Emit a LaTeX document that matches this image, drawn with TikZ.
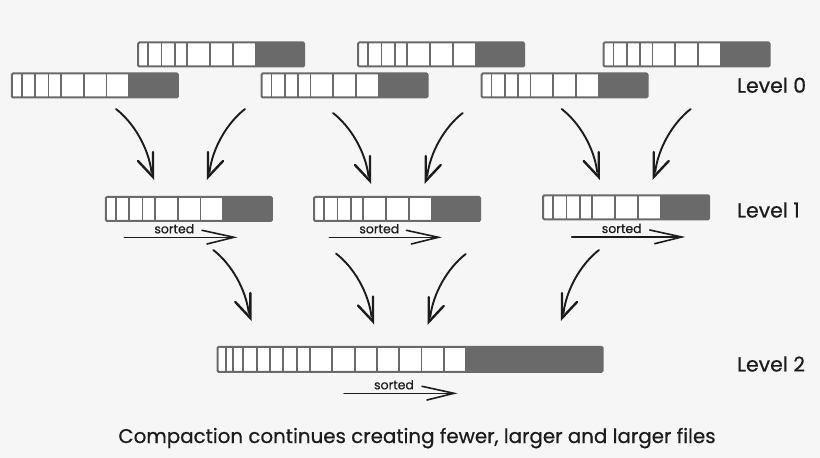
\documentclass[tikz,border=0pt]{standalone}
\usepackage{fontspec}
\setmainfont{Poppins}
\newfontfamily\labfont{Poppins}[FakeBold=0.6]
\usetikzlibrary{calc}
\definecolor{bgc}{RGB}{246,246,246}
\definecolor{barc}{RGB}{106,106,106}
\definecolor{inkc}{RGB}{28,28,28}
\tikzset{
  barnode/.style={fill=white, draw=none, inner sep=0pt, outer sep=0pt, anchor=north west},
  barline/.style={draw=barc, line width=2bp, rounded corners=1.2bp},
  cellline/.style={draw=barc, line width=1.8bp},
  shaft/.style={draw=inkc, line width=1.9bp, line cap=round},
  headarm/.style={draw=inkc, line width=2.4bp, line cap=round, line join=miter},
  sline/.style={draw=inkc, line width=1.4bp, line cap=round},
  shead/.style={draw=inkc, line width=1.6bp, line cap=round, line join=miter},
  sortlab/.style={anchor=base, inner sep=0pt, text=inkc, font=\labfont\fontsize{12.5}{14}\selectfont},
  levellab/.style={anchor=base west, inner sep=0pt, text=inkc, font=\labfont\fontsize{20.5}{24}\selectfont},
  caplab/.style={anchor=base, inner sep=0pt, text=inkc, font=\labfont\fontsize{19.9}{24}\selectfont}
}
\newcommand\fivebar[3]{%
  \node[barnode, minimum width=166bp, minimum height=24bp] (#1) at (#2,#3) {};
  \fill[barc] ($(#1.north west)+(117.4,0)$) rectangle (#1.south east);
  \foreach \cx in {10,23.3,36.6,49,71.8,94.6,117.4}{%
    \draw[cellline] ($(#1.north west)+(\cx,0)$) -- ($(#1.south west)+(\cx,0)$);}
  \draw[barline] (#1.north west) rectangle (#1.south east);
}
\newcommand\carrow[4]{% name, start x, start y, direction
  \coordinate (#1s) at (#2,#3);
  \coordinate (#1t) at ($(#1s)+(#4*37,68)$);
  \draw[shaft] (#1s) .. controls +(#4*18,14) and +(-#4*3,-24) .. ($(#1t)+(-#4*1.5,-5)$);
  \draw[headarm] ($(#1t)+(0,-25)$) -- (#1t) -- ($(#1t)+(-#4*15,-16)$);
}
\newcommand\sortarrow[4]{% name, x1, x2, y
  \coordinate (#1a) at (#2,#4);
  \coordinate (#1b) at (#3,#4);
  \draw[sline] (#1a) -- (#1b);
  \draw[shead] ($(#1b)+(-32,-7)$) -- (#1b) -- ($(#1b)+(-27,6.7)$);
  \node[sortlab] (#1l) at ($(#1a)+(50,-4)$) {sorted};
}
\begin{document}
\begin{tikzpicture}[x=1bp,y=-1bp]
\useasboundingbox (0,0) rectangle (820,458);
\fill[bgc] (0,0) rectangle (820,458);
% Level 0
\fivebar{ta}{138.1}{42.5}
\fivebar{tb}{358.1}{42.5}
\fivebar{tc}{603.5}{42.5}
\fivebar{ba}{11.8}{73.5}
\fivebar{bb}{261.5}{73.5}
\fivebar{bc}{481.5}{73.5}
% Level 1
\fivebar{ma}{105.8}{197}
\fivebar{mb}{314.1}{197}
\fivebar{mc}{543.1}{195.3}
% Level 2
\node[barnode, minimum width=385bp, minimum height=25bp] (big) at (217.5,346.8) {};
\fill[barc] ($(big.north west)+(248.5,0)$) rectangle (big.south east);
\foreach \cx in {8.2,15.8,25.8,39.2,52.5,65.8,79.2,92.5,114.8,137.1,159.4,181.6,203.9,226.2,248.5}{%
  \draw[cellline] ($(big.north west)+(\cx,0)$) -- ($(big.south west)+(\cx,0)$);}
\draw[barline] (big.north west) rectangle (big.south east);
% arrows level 0 -> 1
\carrow{a1}{116}{109}{1}
\carrow{a2}{245}{109}{-1}
\carrow{a3}{333}{113}{1}
\carrow{a4}{462.7}{113}{-1}
\carrow{a5}{561.7}{109}{1}
\carrow{a6}{690.7}{109}{-1}
% arrows level 1 -> 2
\carrow{b1}{213.3}{250}{1}
\carrow{b2}{336}{253.5}{1}
\carrow{b3}{465.7}{254}{-1}
\carrow{b4}{599}{250}{-1}
% sorted arrows
\sortarrow{s1}{124.3}{234}{237.3}
\sortarrow{s2}{329.3}{438.3}{237.3}
\sortarrow{s3}{571.7}{681.7}{237}
\sortarrow{s4}{344}{454}{393.3}
% labels
\node[levellab] (l0) at (737,92.7) {Level 0};
\node[levellab] (l1) at (737,217.5) {Level 1};
\node[levellab] (l2) at (737,371.5) {Level 2};
\node[caplab] (cap) at (417,443) {Compaction continues creating fewer, larger and larger files};
\end{tikzpicture}
\end{document}
